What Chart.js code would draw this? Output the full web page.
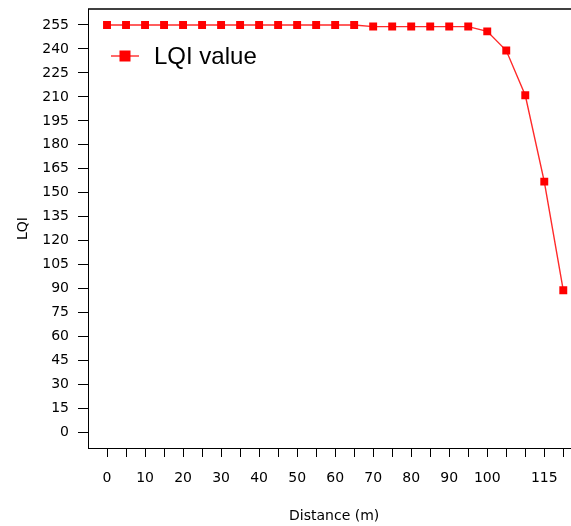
<!DOCTYPE html>
<html>
<head>
<meta charset="utf-8">
<script src="https://cdn.jsdelivr.net/npm/chart.js@4"></script>
<style>
  html, body { margin: 0; padding: 0; overflow: hidden; background: #fff; }
  #wrap { width: 571px; height: 526px; overflow: hidden; }
  #box { width: 586px; height: 526px; }
</style>
</head>
<body>
<div id="wrap"><div id="box"><canvas id="c" width="586" height="526"></canvas></div></div>
<script>
// Distance from the transmitter (m)
const distances = [0, 5, 10, 15, 20, 25, 30, 35, 40, 45, 50, 55, 60, 65, 70, 75, 80, 85, 90, 95, 100, 105, 110, 115, 120];
// Link quality indicator measured at each distance
const lqiValues = [255, 255, 255, 255, 255, 255, 255, 255, 255, 255, 255, 255, 255, 255, 254, 254, 254, 254, 254, 254, 251, 239, 211, 157, 89];

// Axis ticks
const xTicks = [0, 5, 10, 15, 20, 25, 30, 35, 40, 45, 50, 55, 60, 65, 70, 75, 80, 85, 90, 95, 100, 105, 110, 115, 120];
const xTickLabels = [0, 10, 20, 30, 40, 50, 60, 70, 80, 90, 100, 115];
const yTicks = [0, 15, 30, 45, 60, 75, 90, 105, 120, 135, 150, 165, 180, 195, 210, 225, 240, 255];

const axisFont = { family: '"DejaVu Sans", sans-serif', size: 14 };
const ink = '#000';

// keep the plot box fixed: no extra room reserved for edge labels
const noEdgePadding = s => {
  s.paddingTop = 0; s.paddingBottom = 0; s.paddingLeft = 0; s.paddingRight = 0;
};

// closes the plot frame along the top
const frameTop = {
  id: 'frameTop',
  afterDraw(chart) {
    const { ctx, chartArea: a } = chart;
    ctx.save();
    ctx.strokeStyle = ink;
    ctx.lineWidth = 1.5;
    ctx.beginPath();
    ctx.moveTo(a.left, a.top);
    ctx.lineTo(a.right, a.top);
    ctx.stroke();
    ctx.restore();
  }
};

// legend drawn inside the plot, upper left
const insideLegend = {
  id: 'insideLegend',
  afterDraw(chart) {
    const { ctx, chartArea: a } = chart;
    const ds = chart.data.datasets[0];
    const y = a.top + 47;
    const x0 = a.left + 23, x1 = a.left + 51, xm = (x0 + x1) / 2;
    ctx.save();
    ctx.strokeStyle = ds.borderColor;
    ctx.lineWidth = ds.borderWidth;
    ctx.beginPath();
    ctx.moveTo(x0, y);
    ctx.lineTo(x1, y);
    ctx.stroke();
    ctx.fillStyle = ds.pointBackgroundColor;
    ctx.fillRect(xm - 5.5, y - 5.5, 11, 11);
    ctx.fillStyle = ink;
    ctx.font = '24px "Liberation Sans", Arial, sans-serif';
    ctx.textBaseline = 'middle';
    ctx.textAlign = 'left';
    ctx.fillText(ds.label, a.left + 66, y + 1);
    ctx.restore();
  }
};

new Chart(document.getElementById('c'), {
  type: 'line',
  data: {
    labels: distances,
    datasets: [{
      label: 'LQI value',
      data: distances.map((d, i) => ({ x: d, y: lqiValues[i] })),
      borderColor: '#ff2a2a',
      borderWidth: 1.4,
      pointStyle: 'rect',
      pointRadius: 5.6,
      pointBorderWidth: 0,
      pointBackgroundColor: '#ff0000',
      pointBorderColor: '#ff0000',
      tension: 0,
      fill: false
    }]
  },
  options: {
    responsive: false,
    devicePixelRatio: 1,
    animation: false,
    layout: { padding: { top: 9, left: 0, right: 0, bottom: 0 } },
    plugins: {
      legend: { display: false },
      tooltip: { enabled: false }
    },
    scales: {
      x: {
        type: 'linear',
        min: -5,
        max: 124.5,
        afterBuildTicks: s => { s.ticks = xTicks.map(v => ({ value: v })); },
        afterFit: s => { s.height = 78; noEdgePadding(s); },
        ticks: {
          autoSkip: false,
          maxRotation: 0,
          font: axisFont,
          color: ink,
          padding: 13,
          callback: v => xTickLabels.includes(v) ? String(v) : ''
        },
        grid: { drawOnChartArea: false, drawTicks: true, tickLength: 9, tickColor: ink, lineWidth: 1 },
        border: { display: true, color: ink, width: 1 },
        title: { display: true, text: 'Distance (m)', font: axisFont, color: ink, padding: { top: 0, bottom: 1 } }
      },
      y: {
        type: 'linear',
        min: -9.7,
        max: 265,
        afterBuildTicks: s => { s.ticks = yTicks.map(v => ({ value: v })); },
        afterFit: s => { s.width = 88; noEdgePadding(s); },
        ticks: { font: axisFont, color: ink, padding: 9 },
        grid: { drawOnChartArea: false, drawTicks: true, tickLength: 10, tickColor: ink, lineWidth: 1 },
        border: { display: true, color: ink, width: 1 },
        title: { display: true, text: 'LQI', font: axisFont, color: ink, padding: { top: 15, bottom: 0 } }
      }
    }
  },
  plugins: [frameTop, insideLegend]
});
</script>
</body>
</html>
